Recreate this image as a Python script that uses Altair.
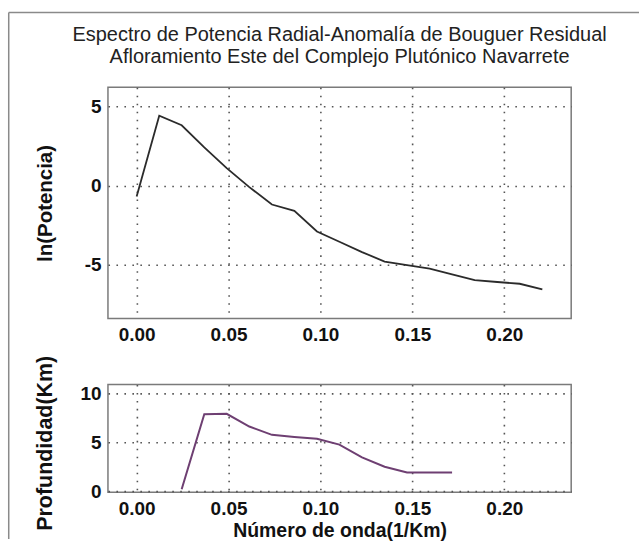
import altair as alt
import pandas as pd

# Power spectrum (top panel)
k_top = [0.0, 0.0123, 0.0245, 0.0368, 0.0490, 0.0613, 0.0736, 0.0858, 0.0981,
         0.1103, 0.1226, 0.1349, 0.1471, 0.1594, 0.1716, 0.1839, 0.1962, 0.2084, 0.2207]
ln_power = [-0.7, 4.4, 3.8, 2.4, 1.1, -0.1, -1.2, -1.6, -2.9,
            -3.55, -4.2, -4.8, -5.02, -5.25, -5.61, -5.97, -6.09, -6.2, -6.55]

# Depth estimate (bottom panel)
k_bot = [0.0245, 0.0368, 0.0490, 0.0613, 0.0736, 0.0858, 0.0981, 0.1103,
         0.1226, 0.1349, 0.1471, 0.1594, 0.1716]
depth = [0.2, 7.85, 7.9, 6.6, 5.75, 5.54, 5.35, 4.75, 3.45, 2.5, 1.9, 1.9, 1.9]

x_ticks = [0.0, 0.05, 0.10, 0.15, 0.20]
y_top_ticks = [-5, 0, 5]
y_bot_ticks = [0, 5, 10]

title_lines = ["Espectro de Potencia Radial-Anomalía de Bouguer Residual",
               "Afloramiento Este del Complejo Plutónico Navarrete"]

FONT = "Liberation Sans"
X_DOMAIN = [-0.0156, 0.2364]

df_top = pd.DataFrame({"k": k_top, "p": ln_power})
df_bot = pd.DataFrame({"k": k_bot, "d": depth})

grid_kw = dict(grid=True, gridColor="#555555", gridDash=[1.6, 6.4], gridWidth=1.6,
               ticks=False, domain=False, labelFont=FONT, labelFontSize=19,
               labelFontWeight="bold", labelColor="#111111", titleFont=FONT,
               titleFontWeight="bold", titleColor="#111111")

top = alt.Chart(df_top).mark_line(color="#2b2b2b", strokeWidth=1.8).encode(
    x=alt.X("k:Q", scale=alt.Scale(domain=X_DOMAIN, nice=False, zero=False),
            axis=alt.Axis(values=x_ticks, format=".2f", title=None, labelPadding=7, **grid_kw)),
    y=alt.Y("p:Q", scale=alt.Scale(domain=[-8.4, 6.2], nice=False, zero=False),
            axis=alt.Axis(values=y_top_ticks, labelExpr="'' + datum.value", title="ln(Potencia)",
                          titleFontSize=20.5, labelPadding=7, titlePadding=29, **grid_kw)),
).properties(
    width=464.5, height=232,
    title=alt.TitleParams(title_lines, font=FONT, fontSize=20, fontWeight="normal",
                          color="#222222", anchor="middle", frame="group",
                          lineHeight=22, offset=20),
)

bottom_line = alt.Chart(df_bot).mark_line(color="#6e3f72", strokeWidth=2).encode(
    x=alt.X("k:Q", scale=alt.Scale(domain=X_DOMAIN, nice=False, zero=False),
            axis=alt.Axis(values=x_ticks, format=".2f", title="Número de onda(1/Km)",
                          titleFontSize=19.5, labelPadding=7, titlePadding=3, **grid_kw)),
    y=alt.Y("d:Q", scale=alt.Scale(domain=[-0.1, 10.9], nice=False, zero=False),
            axis=alt.Axis(values=y_bot_ticks, labelExpr="'' + datum.value", title="Profundidad(Km)",
                          titleFontSize=21.5, titleY=58.5, labelPadding=7, titlePadding=23,
                          **grid_kw)),
)

# Scanned-figure frame (top and left border of the original image)
frame_df = pd.DataFrame({"f": [0]})
frame_left = alt.Chart(frame_df).mark_rule(color="#8a8a8a", strokeWidth=1.5).encode(
    x=alt.value(-99.5), y=alt.value(-373), y2=alt.value(155))
frame_top = alt.Chart(frame_df).mark_rule(color="#8a8a8a", strokeWidth=1.5).encode(
    x=alt.value(-99.5), x2=alt.value(532.5), y=alt.value(-373))

bottom = alt.layer(bottom_line, frame_left, frame_top).properties(width=464.5, height=108)

chart = alt.vconcat(top, bottom, spacing=66, bounds="flush").properties(
    padding={"left": 7.25, "top": 9.75, "right": 0, "bottom": 0},
    background="white",
).configure_view(stroke="#7a7a7a", strokeWidth=1.5)

chart.save("out.html", embed_options={"renderer": "svg", "actions": False})
